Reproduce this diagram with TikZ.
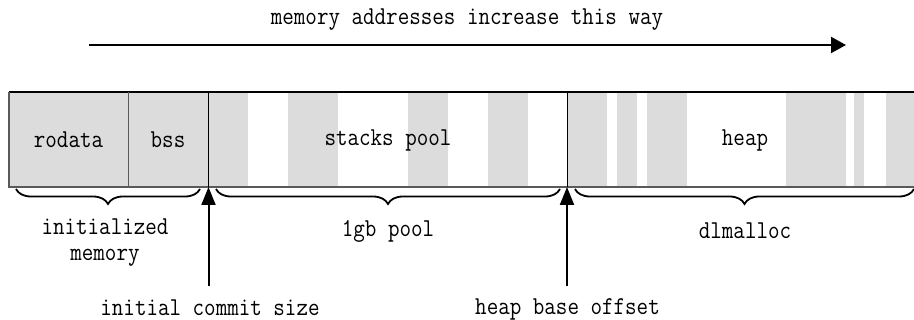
\documentclass[tikz,border=0pt]{standalone}
\usetikzlibrary{arrows.meta,decorations.pathreplacing}
\definecolor{stripe}{RGB}{220,220,220}
\definecolor{edgegray}{RGB}{90,90,90}
\newcommand\vtx[1]{\scalebox{1}[1.15]{#1}}
\begin{document}
\begin{tikzpicture}[x=1pt,y=-1pt,
  lbl/.style={font=\fontsize{22.4}{26}\selectfont\ttfamily, inner sep=0pt, align=center},
  bracestyle/.style={decorate, decoration={brace, mirror, amplitude=15pt}, line width=1.8pt},
  ptr/.style={line width=2pt, -{Triangle[length=18pt,width=14pt]}},
  dirarrow/.style={line width=2pt, -{Triangle[length=15pt,width=16pt]}}]
\useasboundingbox (0,0) rectangle (914,320);
\begin{scope}
\clip (0,0) rectangle (914,320);
% gray blocks
\foreach \a/\b in {9/248, 288/338, 408/448, 488/528, 567/607, 617/637, 647/687, 786/846, 854/864, 886/930}
  \fill[stripe] (\a,92) rectangle (\b,187);
% outline
\draw[line width=1.5pt, black] (9,92) -- (930,92);
\draw[line width=1.5pt, edgegray] (930,187) -- (9,187) -- (9,92);
\draw[line width=1pt, edgegray] (128.5,92) -- (128.5,187);
\draw[line width=1pt, black] (208.5,92) -- (208.5,187);
\draw[line width=1pt, black] (567,92) -- (567,187);
\end{scope}
% labels inside
\node[lbl] (rodata) at (68.5,140) {\vtx{rodata}};
\node[lbl] (bss) at (168,140) {\vtx{bss}};
\node[lbl] (stacks) at (388,140) {\vtx{stacks pool}};
\node[lbl] (heap) at (745,140) {\vtx{heap}};
% top arrow
\node[lbl] (dirtext) at (467,20) {\vtx{memory addresses increase this way}};
\coordinate (dirstart) at (89,45);
\coordinate (dirend) at (846,45);
\draw[dirarrow] (dirstart) -- (dirend);
% braces
\coordinate (b1s) at (16,189);
\coordinate (b1e) at (200,189);
\coordinate (b2s) at (216,189);
\coordinate (b2e) at (560,189);
\coordinate (b3s) at (575,189);
\coordinate (b3e) at (914,189);
\draw[bracestyle] (b1s) -- (b1e);
\draw[bracestyle] (b2s) -- (b2e);
\draw[bracestyle] (b3s) -- (b3e);
\node[lbl] (initmem) at (105,243) {\vtx{initialized}\\\vtx{memory}};
\node[lbl] (pool) at (388,231) {\vtx{1gb pool}};
\node[lbl] (dlm) at (745,231) {\vtx{dlmalloc}};
% pointers
\coordinate (commitbase) at (208.5,286);
\coordinate (committip) at (208.5,187);
\coordinate (heapbase) at (567,286);
\coordinate (heaptip) at (567,187);
\draw[ptr] (commitbase) -- (committip);
\draw[ptr] (heapbase) -- (heaptip);
\node[lbl] (commit) at (210,308) {\vtx{initial commit size}};
\node[lbl] (heapoff) at (567.5,309) {\vtx{heap base offset}};
\end{tikzpicture}
\end{document}
